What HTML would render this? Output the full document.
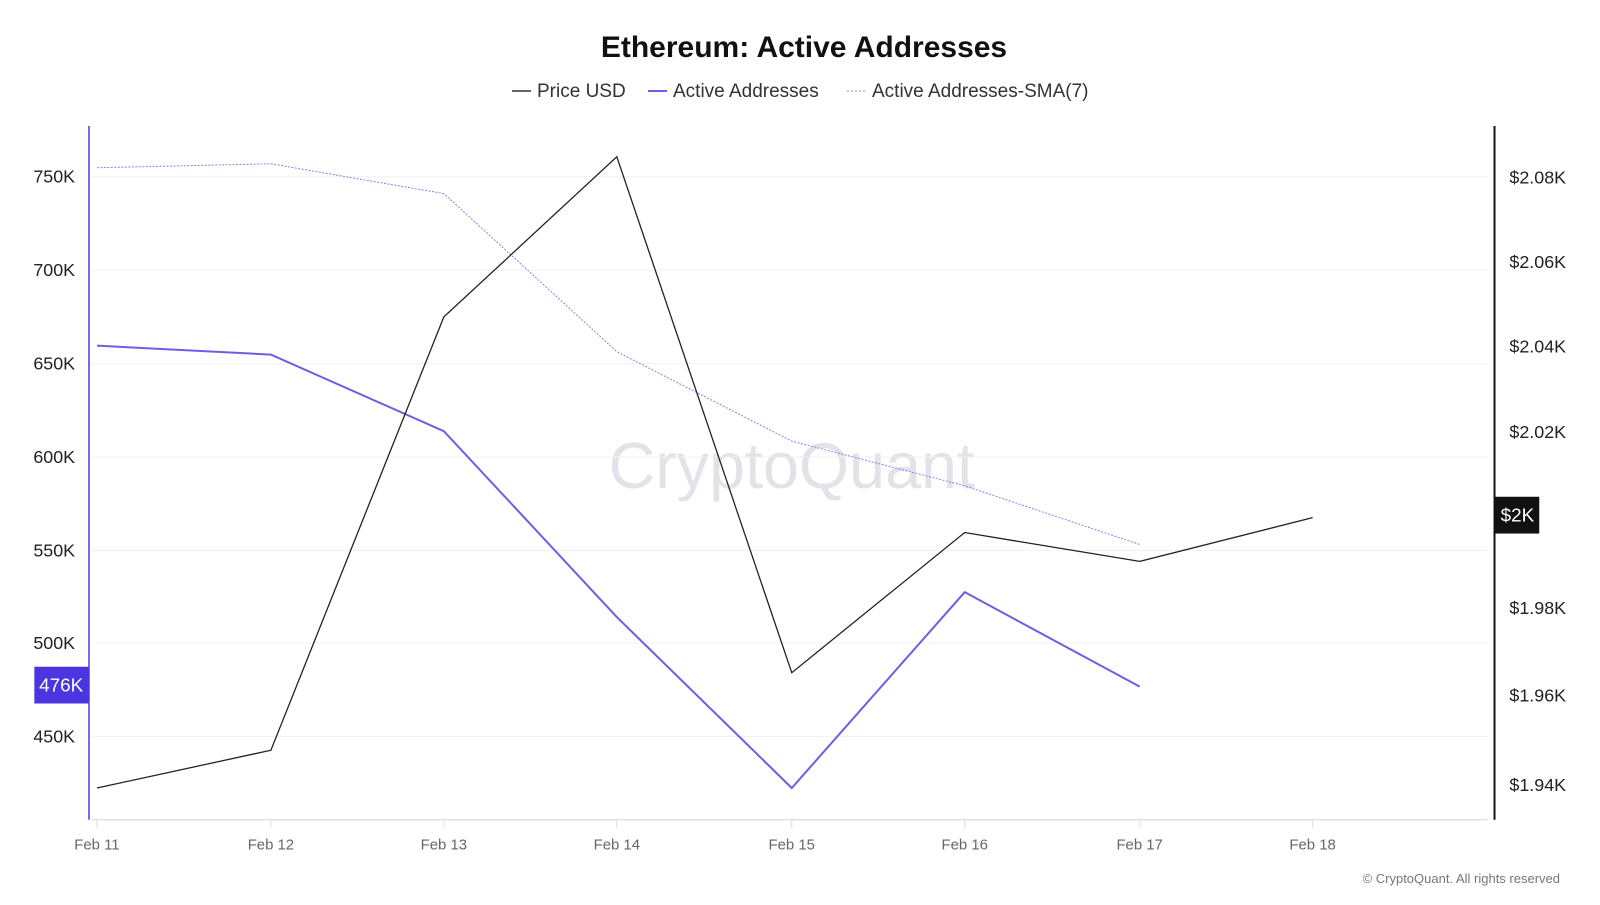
<!DOCTYPE html>
<html><head><meta charset="utf-8"><style>
body{margin:0;background:#fff;font-family:"Liberation Sans",sans-serif}
</style></head><body>
<svg width="1600" height="900" xmlns="http://www.w3.org/2000/svg" font-family="Liberation Sans, sans-serif">
<rect width="1600" height="900" fill="#fff"/>
<text x="804" y="57" text-anchor="middle" font-size="30" font-weight="bold" fill="#111">Ethereum: Active Addresses</text>
<g font-size="19" fill="#333">
<line x1="512" y1="91" x2="531" y2="91" stroke="#333" stroke-width="1.5"/>
<text x="537" y="97">Price USD</text>
<line x1="648" y1="91" x2="667" y2="91" stroke="#6f5ce6" stroke-width="2"/>
<text x="673" y="97">Active Addresses</text>
<line x1="847" y1="91" x2="866" y2="91" stroke="#8b7cf0" stroke-width="1" stroke-dasharray="2,2"/>
<text x="872" y="97">Active Addresses-SMA(7)</text>
</g>
<g transform="translate(89,126) scale(0.994) translate(-89,-126)">
<text x="796" y="490" text-anchor="middle" font-size="65" fill="#e2e2e8">CryptoQuant</text>
<g stroke="#f0f0f0" stroke-width="1">
<line x1="92" y1="177" x2="1496" y2="177"/><line x1="92" y1="271" x2="1496" y2="271"/>
<line x1="92" y1="365" x2="1496" y2="365"/><line x1="92" y1="459" x2="1496" y2="459"/>
<line x1="92" y1="553" x2="1496" y2="553"/><line x1="92" y1="646" x2="1496" y2="646"/>
<line x1="92" y1="740" x2="1496" y2="740"/>
</g>
<line x1="92" y1="824" x2="1496" y2="824" stroke="#ccc"/>
<g stroke="#ddd"><line x1="97" y1="824" x2="97" y2="832"/><line x1="272" y1="824" x2="272" y2="832"/><line x1="446" y1="824" x2="446" y2="832"/><line x1="620" y1="824" x2="620" y2="832"/><line x1="796" y1="824" x2="796" y2="832"/><line x1="970" y1="824" x2="970" y2="832"/><line x1="1146" y1="824" x2="1146" y2="832"/><line x1="1320" y1="824" x2="1320" y2="832"/></g>
<line x1="89" y1="126" x2="89" y2="824" stroke="#7b68ee" stroke-width="2"/>
<line x1="1503" y1="126" x2="1503" y2="824" stroke="#111" stroke-width="2"/>
<g font-size="18" fill="#222" text-anchor="end">
<text x="75" y="183">750K</text><text x="75" y="277">700K</text><text x="75" y="371">650K</text>
<text x="75" y="465">600K</text><text x="75" y="559">550K</text><text x="75" y="652">500K</text>
<text x="75" y="746">450K</text>
</g>
<g font-size="18" fill="#222">
<text x="1518" y="184">$2.08K</text><text x="1518" y="269">$2.06K</text><text x="1518" y="354">$2.04K</text>
<text x="1518" y="440">$2.02K</text><text x="1518" y="617">$1.98K</text><text x="1518" y="705">$1.96K</text>
<text x="1518" y="795">$1.94K</text>
</g>
<g font-size="15" fill="#666" text-anchor="middle">
<text x="97" y="854">Feb 11</text><text x="272" y="854">Feb 12</text><text x="446" y="854">Feb 13</text>
<text x="620" y="854">Feb 14</text><text x="796" y="854">Feb 15</text><text x="970" y="854">Feb 16</text>
<text x="1146" y="854">Feb 17</text><text x="1320" y="854">Feb 18</text>
</g>
<polyline fill="none" stroke="#8b7cf0" stroke-width="1" stroke-dasharray="2,1.5" points="97,168 272,164 446,194 620,353 796,443 970,488 1146,547"/>
<polyline fill="none" stroke="#6f5ce6" stroke-width="2" points="97,347 272,356 446,433 620,620 796,792 970,595 1146,690"/>
<polyline fill="none" stroke="#222" stroke-width="1.3" points="97,792 272,754 446,318 620,157 796,676 970,535 1146,564 1320,520"/>
<rect x="34" y="670" width="55" height="37" fill="#4a35e0"/>
<text x="61" y="695" text-anchor="middle" font-size="19" fill="#fff">476K</text>
<rect x="1504" y="499" width="44" height="37" fill="#111"/>
<text x="1526" y="524" text-anchor="middle" font-size="19" fill="#fff">$2K</text>
</g>
<text x="1560" y="883" text-anchor="end" font-size="13" fill="#777">© CryptoQuant. All rights reserved</text>
</svg>
</body></html>
